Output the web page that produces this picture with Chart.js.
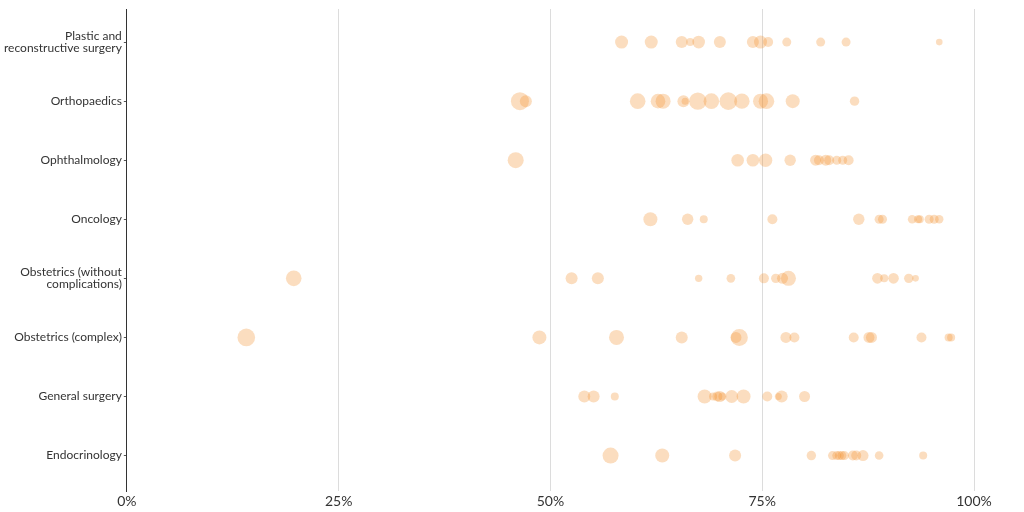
<!DOCTYPE html>
<html>
<head>
<meta charset="utf-8">
<script src="https://cdn.jsdelivr.net/npm/chart.js@4/dist/chart.umd.min.js"></script>
<style>
  body { margin: 0; background: #fff; }
</style>
</head>
<body>
<canvas id="canvas" width="1024" height="512"></canvas>
<script>
const categories = [
    ['Plastic and', 'reconstructive surgery'],
    'Orthopaedics',
    'Ophthalmology',
    'Oncology',
    ['Obstetrics (without', 'complications)'],
    'Obstetrics (complex)',
    'General surgery',
    'Endocrinology'
];
const xTicks = [0, 25, 50, 75, 100];

// share (%) and bubble size per specialty
const plasticX = [58.4, 61.9, 65.5, 66.5, 67.5, 70.0, 73.9, 74.8, 75.7, 77.9, 81.9, 84.9, 95.9];
const plasticR = [6.5, 6.5, 6, 4, 6.3, 6, 6, 6.5, 5, 4.5, 4.5, 4.5, 3.3];
const orthoX = [46.4, 47.1, 60.3, 62.7, 63.3, 65.7, 65.9, 67.4, 69.0, 71.0, 72.6, 74.8, 75.5, 78.6, 85.9];
const orthoR = [9, 6, 7.8, 7.3, 7.5, 6, 3.5, 8.7, 7.8, 8.8, 7.7, 7.5, 7.8, 7, 4.7];
const ophthX = [45.9, 72.1, 73.9, 75.4, 78.3, 81.3, 81.7, 82.5, 82.9, 83.8, 84.5, 85.2];
const ophthR = [8, 6.3, 6.3, 6.7, 5.7, 5.5, 5, 5.5, 5, 4.5, 4.5, 5];
const oncoX = [61.8, 66.2, 68.1, 76.2, 86.4, 88.8, 89.2, 92.7, 93.4, 93.6, 94.7, 95.3, 95.9];
const oncoR = [7, 5.7, 4, 5, 5.7, 4.5, 4.5, 4.3, 4, 4, 4.5, 4.5, 4.2];
const obsNormX = [19.7, 52.5, 55.6, 67.5, 71.3, 75.2, 76.6, 77.4, 78.1, 88.6, 89.4, 90.5, 92.3, 93.1];
const obsNormR = [7.8, 6, 6, 3.7, 4.3, 5, 4.7, 5.5, 7.5, 5.3, 4, 5.3, 4.7, 3.3];
const obsCompX = [14.1, 48.7, 57.8, 65.5, 71.9, 72.3, 77.8, 78.8, 85.8, 87.6, 87.9, 93.8, 97.0, 97.3];
const obsCompR = [8.8, 7, 7.5, 6, 5.5, 8.5, 5.5, 5, 5, 5.5, 5.5, 5, 4, 4];
const surgX = [54.0, 55.1, 57.6, 68.2, 69.2, 69.7, 70.0, 70.3, 71.4, 72.8, 75.6, 76.9, 77.3, 80.0];
const surgR = [6, 6, 4, 7, 4, 5, 5.5, 4, 6.5, 7, 5, 3.5, 6, 5.5];
const endoX = [57.1, 63.2, 71.8, 80.8, 83.3, 83.8, 84.1, 84.4, 84.7, 85.7, 86.1, 86.9, 88.8, 94.0];
const endoR = [8, 7, 6, 4.7, 4.5, 4.5, 4.5, 4.5, 4.5, 5, 5, 5.5, 4.3, 4];

const rowsX = [plasticX, orthoX, ophthX, oncoX, obsNormX, obsCompX, surgX, endoX];
const rowsR = [plasticR, orthoR, ophthR, oncoR, obsNormR, obsCompR, surgR, endoR];

let points = [];
rowsX.forEach(function(xs, i) {
    xs.forEach(function(x, j) {
        points.push({x: x, y: i, r: rowsR[i][j]});
    });
});

Chart.defaults.font.family = 'Lato, "Open Sans", sans-serif';
Chart.defaults.color = '#333';

let ctx = document.getElementById('canvas').getContext('2d');
window.myChart = new Chart(ctx, {
    type: 'bubble',
    data: {
        datasets: [{
            data: points,
            backgroundColor: 'rgba(242, 142, 43, 0.3)',
            borderWidth: 0,
            hoverBorderWidth: 0
        }]
    },
    options: {
        responsive: false,
        animation: false,
        layout: { padding: { top: 1, right: 50, left: 2, bottom: 1 } },
        plugins: { legend: { display: false }, tooltip: { enabled: false } },
        scales: {
            x: {
                type: 'linear',
                min: 0,
                max: 100,
                afterBuildTicks: function(axis) {
                    axis.ticks = xTicks.map(function(v) { return {value: v}; });
                },
                ticks: {
                    font: { size: 14, lineHeight: 1 },
                    color: '#333',
                    padding: 3,
                    callback: function(v) { return v + '%'; }
                },
                grid: {
                    color: function(c) { return c.tick && c.tick.value === 0 ? 'rgba(0,0,0,0)' : '#dcdcdc'; },
                    drawTicks: false
                },
                border: { display: false }
            },
            y: {
                type: 'linear',
                reverse: true,
                min: -0.56,
                max: 7.6,
                afterBuildTicks: function(axis) {
                    axis.ticks = categories.map(function(c, i) { return {value: i}; });
                },
                ticks: {
                    font: { size: 12, lineHeight: 1 },
                    color: '#333',
                    padding: 2,
                    callback: function(v) { return categories[v]; }
                },
                grid: {
                    drawOnChartArea: false,
                    drawTicks: true,
                    tickLength: 3,
                    tickColor: '#555'
                },
                border: { display: true, color: '#333', width: 1 }
            }
        }
    }
});
</script>
</body>
</html>
